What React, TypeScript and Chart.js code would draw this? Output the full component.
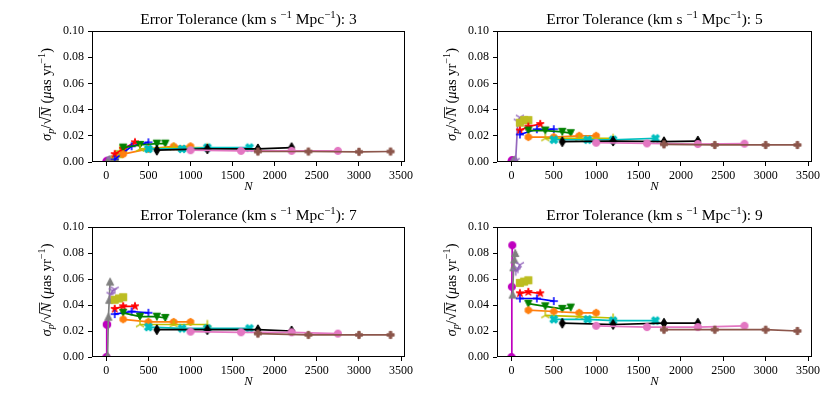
import { useEffect, useRef } from 'react'
import { Chart, registerables } from 'chart.js'

Chart.register(...registerables)

const FONT = '"Liberation Serif", "DejaVu Serif", serif'
Chart.defaults.font.family = FONT

const W = 831
const H = 404

// one panel per error tolerance
const tolerances = [3, 5, 7, 9]
const xTickValues = [0, 500, 1000, 1500, 2000, 2500, 3000, 3500]
const yTickValues = [0, 0.02, 0.04, 0.06, 0.08, 0.1]

// N of every run
const nMagenta = [1, 5, 10]
const nGray = [15, 25, 35, 45]
const nPurple = [50, 75, 100]
const nOlive = [100, 150, 200]
const nRed = [100, 200, 340]
const nBlue = [100, 300, 500]
const nGreen = [200, 400, 600, 700]
const nOrange = [200, 500, 800, 1000]
const nYellow = [400, 800, 1200]
const nCyan = [500, 900, 1200, 1700]
const nBlack = [600, 1200, 1800, 2200]
const nPink = [1000, 1600, 2200, 2750]
const nBrown = [1800, 2400, 3000, 3375]

// sigma_p / sqrt(N), one row per panel (tolerance 3, 5, 7, 9)
const magenta = [
  [0, 0.0005, 0.001],
  [0, 0.001, 0.0015],
  [0, 0.025, 0.025],
  [0, 0.054, 0.086],
]
const gray = [
  [0.001, 0.0015, 0.002, 0.002],
  [0.001, 0.001, 0.0015, 0.002],
  [0.001, 0.031, 0.044, 0.058],
  [0.048, 0.069, 0.075, 0.08],
]
const purple = [
  [0.002, 0.002, 0.003],
  [0.001, 0.031, 0.034],
  [0.048, 0.051, 0.052],
  [0.066, 0.068, 0.071],
]
const olive = [
  [0.002, 0.006, 0.01],
  [0.03, 0.032, 0.032],
  [0.044, 0.045, 0.046],
  [0.057, 0.058, 0.059],
]
const red = [
  [0.006, 0.01, 0.015],
  [0.024, 0.027, 0.029],
  [0.037, 0.039, 0.039],
  [0.049, 0.05, 0.049],
]
const blue = [
  [0.002, 0.012, 0.015],
  [0.021, 0.025, 0.025],
  [0.033, 0.035, 0.034],
  [0.045, 0.045, 0.043],
]
const green = [
  [0.011, 0.013, 0.014, 0.014],
  [0.024, 0.024, 0.023, 0.022],
  [0.034, 0.031, 0.031, 0.03],
  [0.041, 0.039, 0.037, 0.038],
]
const orange = [
  [0.006, 0.01, 0.012, 0.012],
  [0.019, 0.019, 0.02, 0.02],
  [0.029, 0.027, 0.027, 0.027],
  [0.036, 0.035, 0.034, 0.034],
]
const yellow = [
  [0.01, 0.011, 0.011],
  [0.018, 0.018, 0.018],
  [0.025, 0.025, 0.025],
  [0.032, 0.031, 0.03],
]
const cyan = [
  [0.01, 0.01, 0.011, 0.011],
  [0.017, 0.017, 0.017, 0.018],
  [0.023, 0.022, 0.022, 0.022],
  [0.029, 0.029, 0.028, 0.028],
]
const black = [
  [0.009, 0.01, 0.01, 0.011],
  [0.0155, 0.016, 0.0155, 0.016],
  [0.021, 0.021, 0.021, 0.02],
  [0.026, 0.025, 0.026, 0.026],
]
const pink = [
  [0.009, 0.0085, 0.0085, 0.0085],
  [0.0147, 0.0142, 0.0137, 0.014],
  [0.0195, 0.019, 0.019, 0.018],
  [0.024, 0.023, 0.023, 0.024],
]
const brown = [
  [0.008, 0.008, 0.0078, 0.008],
  [0.0135, 0.013, 0.013, 0.013],
  [0.018, 0.017, 0.017, 0.017],
  [0.021, 0.021, 0.021, 0.02],
]

const series = [
  { n: nMagenta, v: magenta, color: '#bf00bf', marker: 'o' },
  { n: nGray, v: gray, color: '#7f7f7f', marker: '^' },
  { n: nPurple, v: purple, color: '#9467bd', marker: '1' },
  { n: nOlive, v: olive, color: '#bcbd22', marker: 's' },
  { n: nRed, v: red, color: '#ff0000', marker: '*' },
  { n: nBlue, v: blue, color: '#0000ff', marker: '+' },
  { n: nGreen, v: green, color: '#008000', marker: 'v' },
  { n: nOrange, v: orange, color: '#ff7f0e', marker: 'h' },
  { n: nYellow, v: yellow, color: '#bfbf00', marker: '2' },
  { n: nCyan, v: cyan, color: '#00bfbf', marker: 'X' },
  { n: nBlack, v: black, color: '#000000', marker: 'd' },
  { n: nPink, v: pink, color: '#e377c2', marker: 'o' },
  { n: nBrown, v: brown, color: '#8c564b', marker: 'P' },
]

// plot areas in page pixels
const panels = [
  { left: 92, top: 31, right: 405, bottom: 162 },
  { left: 497, top: 31, right: 812, bottom: 162 },
  { left: 92, top: 227, right: 405, bottom: 357 },
  { left: 497, top: 227, right: 812, bottom: 357 },
]

function makeMarker(kind: string, color: string) {
  const s = 14
  const c = document.createElement('canvas')
  c.width = s
  c.height = s
  const g = c.getContext('2d')!
  g.translate(s / 2, s / 2)
  g.fillStyle = color
  g.strokeStyle = color
  g.lineWidth = 1
  const r = 3.6
  const poly = (pts: number[][]) => {
    g.beginPath()
    pts.forEach(([x, y], i) => (i ? g.lineTo(x, y) : g.moveTo(x, y)))
    g.closePath()
    g.fill()
    g.stroke()
  }
  const spokes = (angles: number[]) => {
    g.lineWidth = 1.4
    g.beginPath()
    angles.forEach((a) => {
      g.moveTo(0, 0)
      g.lineTo(Math.cos(a) * (r + 1), Math.sin(a) * (r + 1))
    })
    g.stroke()
  }
  const plusPts = (k: number) =>
    [[-1, -3], [1, -3], [1, -1], [3, -1], [3, 1], [1, 1], [1, 3], [-1, 3], [-1, 1], [-3, 1], [-3, -1], [-1, -1]].map(
      ([x, y]) => [(x * r * k) / 3, (y * r * k) / 3]
    )
  switch (kind) {
    case 'o':
      g.beginPath()
      g.arc(0, 0, r, 0, Math.PI * 2)
      g.fill()
      g.stroke()
      break
    case '^':
      poly([[0, -r], [r, r], [-r, r]])
      break
    case 'v':
      poly([[0, r], [r, -r], [-r, -r]])
      break
    case 's':
      poly([[-r, -r], [r, -r], [r, r], [-r, r]])
      break
    case '*': {
      const pts: number[][] = []
      for (let i = 0; i < 10; i++) {
        const rr = i % 2 ? r * 1.15 * 0.38 : r * 1.15
        const a = -Math.PI / 2 + (i * Math.PI) / 5
        pts.push([Math.cos(a) * rr, Math.sin(a) * rr])
      }
      poly(pts)
      break
    }
    case '+':
      g.lineWidth = 1.5
      g.beginPath()
      g.moveTo(-r - 0.5, 0)
      g.lineTo(r + 0.5, 0)
      g.moveTo(0, -r - 0.5)
      g.lineTo(0, r + 0.5)
      g.stroke()
      break
    case 'h': {
      const pts: number[][] = []
      for (let i = 0; i < 6; i++) {
        const a = -Math.PI / 2 + (i * Math.PI) / 3
        pts.push([Math.cos(a) * r, Math.sin(a) * r])
      }
      poly(pts)
      break
    }
    case 'X':
      g.rotate(Math.PI / 4)
      poly(plusPts(1.15))
      break
    case 'P':
      poly(plusPts(1))
      break
    case 'd':
      poly([[0, -r * 1.4], [r * 0.84, 0], [0, r * 1.4], [-r * 0.84, 0]])
      break
    case '1':
      spokes([Math.PI / 2, -Math.PI / 6, (-5 * Math.PI) / 6])
      break
    case '2':
      spokes([-Math.PI / 2, Math.PI / 6, (5 * Math.PI) / 6])
      break
  }
  return c
}

type Seg = { t: string; it?: boolean; up?: number; small?: boolean; bar?: boolean }

function drawRich(ctx: CanvasRenderingContext2D, segs: Seg[], cx: number, cy: number, size: number, rot: number) {
  const fontFor = (s: Seg) => `${s.it ? 'italic ' : ''}${s.small ? size * 0.7 : size}px ${FONT}`
  let total = 0
  const widths = segs.map((s) => {
    ctx.font = fontFor(s)
    const w = ctx.measureText(s.t).width
    total += w
    return w
  })
  ctx.save()
  ctx.translate(cx, cy)
  ctx.rotate(rot)
  ctx.fillStyle = '#000'
  ctx.textAlign = 'left'
  ctx.textBaseline = 'alphabetic'
  let x = -total / 2
  const base = size * 0.33
  segs.forEach((s, i) => {
    ctx.font = fontFor(s)
    const y = base - (s.up || 0) * size
    ctx.fillText(s.t, x, y)
    if (s.bar) ctx.fillRect(x - 1, y - size * 0.8, widths[i] + 1, 0.8)
    x += widths[i]
  })
  ctx.restore()
}

const decor = (index: number) => ({
  id: 'decor',
  afterDatasetsDraw(chart: Chart) {
    const { ctx, chartArea: a } = chart
    ctx.save()
    ctx.strokeStyle = '#000'
    ctx.lineWidth = 1
    ctx.strokeRect(a.left + 0.5, a.top + 0.5, a.right - a.left - 1, a.bottom - a.top - 1)
    ctx.restore()
  },
  afterDraw(chart: Chart) {
    const { ctx, chartArea: a } = chart
    const cx = (a.left + a.right) / 2
    drawRich(
      ctx,
      [
        { t: 'Error Tolerance (km s ' },
        { t: '−1', small: true, up: 0.38 },
        { t: ' Mpc' },
        { t: '−1', small: true, up: 0.38 },
        { t: '): ' + tolerances[index] },
      ],
      cx,
      a.top - 12,
      15.5,
      0
    )
    drawRich(ctx, [{ t: 'N', it: true }], cx, a.bottom + 24, 12.5, 0)
    drawRich(
      ctx,
      [
        { t: 'σ', it: true },
        { t: 'p', it: true, small: true, up: -0.2 },
        { t: '/√' },
        { t: 'N', it: true, bar: true },
        { t: ' (' },
        { t: 'μ', it: true },
        { t: 'as yr' },
        { t: '−1', small: true, up: 0.38 },
        { t: ')' },
      ],
      a.left - 46,
      (a.top + a.bottom) / 2 - 2,
      14.5,
      -Math.PI / 2
    )
  },
})

function Panel({ index }: { index: number }) {
  const chartRef = useRef<HTMLCanvasElement | null>(null)

  useEffect(() => {
    if (!chartRef.current) return
    const box = panels[index]
    const chart = new Chart(chartRef.current, {
      type: 'scatter',
      data: {
        datasets: series.map((s, i) => ({
          data: s.n.map((x, k) => ({ x, y: s.v[index][k] })),
          showLine: true,
          borderColor: s.color,
          backgroundColor: s.color,
          borderWidth: 1.7,
          pointStyle: makeMarker(s.marker, s.color) as any,
          pointRadius: 4,
          pointHoverRadius: 4,
          clip: 0,
          order: -i,
        })),
      },
      options: {
        animation: false,
        responsive: true,
        maintainAspectRatio: false,
        events: [],
        layout: {
          padding: {
            left: box.left - 60,
            top: box.top,
            right: W - box.right,
            bottom: H - box.bottom - 30,
          },
        },
        plugins: {
          legend: { display: false },
          tooltip: { enabled: false },
        },
        scales: {
          x: {
            type: 'linear',
            min: -170,
            max: 3547,
            afterFit: (scale) => {
              scale.height = 30
            },
            afterBuildTicks: (scale) => {
              scale.ticks = xTickValues.map((value) => ({ value }))
            },
            border: { display: false },
            grid: { drawOnChartArea: false, drawTicks: true, tickLength: 4, color: '#000' },
            ticks: {
              color: '#000',
              font: { size: 12 },
              padding: 3,
              maxRotation: 0,
              callback: (v) => String(v),
            },
          },
          y: {
            min: 0,
            max: 0.1,
            afterFit: (scale) => {
              scale.width = 60
            },
            afterBuildTicks: (scale) => {
              scale.ticks = yTickValues.map((value) => ({ value }))
            },
            border: { display: false },
            grid: { drawOnChartArea: false, drawTicks: true, tickLength: 4, color: '#000' },
            ticks: {
              color: '#000',
              font: { size: 12 },
              padding: 4,
              callback: (v) => Number(v).toFixed(2),
            },
          },
        },
      },
      plugins: [decor(index)],
    })
    return () => chart.destroy()
  }, [index])

  return (
    <div style={{ position: 'absolute', left: 0, top: 0, width: W, height: H }}>
      <canvas ref={chartRef} />
    </div>
  )
}

export default function App() {
  return (
    <div style={{ position: 'absolute', left: 0, top: 0, width: W, height: H, background: '#fff' }}>
      {panels.map((_, i) => (
        <Panel key={i} index={i} />
      ))}
    </div>
  )
}
